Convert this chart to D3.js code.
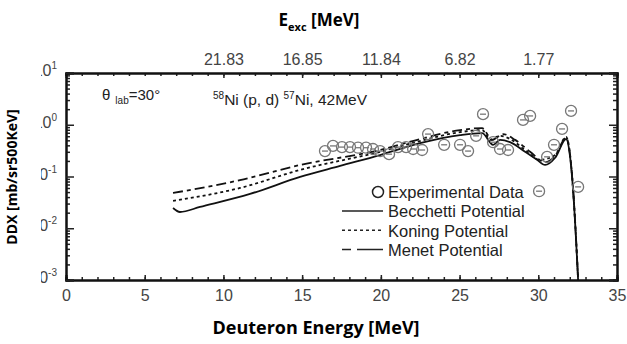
<!DOCTYPE html>
<html>
<head>
<meta charset="utf-8">
<script src="https://cdn.jsdelivr.net/npm/d3@7"></script>
<style>
  body { margin: 0; background: #fff; }
  svg { display: block; }
  .tk text { font-family: "Liberation Sans", Arial, sans-serif; font-size: 16px; fill: #444; }
  .title { font-family: "Open Sans", sans-serif; font-weight: bold; fill: #000; }
</style>
</head>
<body>
<svg id="chart" width="627" height="344"></svg>
<script>
// Becchetti potential (solid)
const becEd  = [6.80, 7.24, 8.51, 11.69, 14.87, 17.41, 19.95, 22.49, 25.03, 26.43, 27.13, 27.57, 28.21, 29.16, 29.92, 30.43, 31.07, 31.77, 32.02, 32.21, 32.40, 32.53];
const becVal = [0.0246, 0.0206, 0.0258, 0.046, 0.098, 0.16, 0.26, 0.44, 0.63, 0.69, 0.41, 0.51, 0.46, 0.30, 0.21, 0.167, 0.23, 0.53, 0.24, 0.055, 0.0059, 0.001];
// Koning potential (dotted)
const konEd  = [6.80, 11.05, 14.87, 19.95, 22.49, 25.03, 26.43, 26.95, 27.57, 28.21, 29.16, 30.11, 31.07, 31.77, 32.02, 32.21, 32.40, 32.53];
const konVal = [0.0337, 0.060, 0.134, 0.30, 0.485, 0.72, 0.79, 0.51, 0.61, 0.53, 0.325, 0.21, 0.26, 0.58, 0.26, 0.058, 0.0062, 0.001];
// Menet potential (dash)
const menEd  = [6.80, 11.05, 14.87, 19.95, 22.49, 25.03, 26.43, 27.07, 27.76, 28.53, 29.48, 30.43, 31.07, 31.77, 32.02, 32.21, 32.40, 32.53];
const menVal = [0.048, 0.085, 0.167, 0.325, 0.53, 0.79, 0.86, 0.51, 0.66, 0.51, 0.30, 0.19, 0.25, 0.56, 0.26, 0.058, 0.0062, 0.001];
// experimental data
const expEd  = [16.45, 16.96, 17.53, 18.04, 18.55, 19.06, 19.50, 19.95, 20.52, 21.09, 21.60, 22.05, 22.62, 23.00, 24.02, 25.03, 25.54, 26.05, 26.49, 27.13, 27.57, 28.08, 29.03, 29.48, 30.05, 30.56, 31.00, 31.51, 32.08, 32.53];
const expVal = [0.31, 0.39, 0.37, 0.37, 0.36, 0.36, 0.34, 0.31, 0.27, 0.37, 0.37, 0.34, 0.325, 0.66, 0.41, 0.41, 0.31, 0.61, 1.6, 0.46, 0.34, 0.325, 1.24, 1.48, 0.052, 0.24, 0.41, 0.83, 1.85, 0.063];
// top axis: excitation energy labels at deuteron energies
const topEd   = [10, 15, 20, 25, 30];
const topLbl  = ["21.83", "16.85", "11.84", "6.82", "1.77"];
const yDecades = [1e-3, 1e-2, 1e-1, 1, 10];
const yExp     = ["-3", "-2", "-1", "0", "1"];
const legendLbl = ["Experimental Data", "Becchetti Potential", "Koning Potential", "Menet Potential"];

const svg = d3.select("#chart");
const L = 66, R = 617, T = 73, B = 280;
const x = d3.scaleLinear().domain([0, 35]).range([L, R]);
const y = d3.scaleLog().domain([1e-3, 10]).range([B, T]);

const minorY = [];
yDecades.slice(0, -1).forEach(d => { for (let k = 2; k <= 9; k++) minorY.push(d * k); });
const minorX = d3.range(0, 36, 1);

// axes
svg.append("g").attr("class", "tk").attr("transform", `translate(0,${B})`)
  .call(d3.axisBottom(x).tickValues(minorX).tickSize(-3).tickFormat(""));
svg.append("g").attr("class", "tk").attr("transform", `translate(0,${B})`)
  .call(d3.axisBottom(x).tickValues(d3.range(0, 36, 5)).tickSize(-5).tickPadding(10).tickFormat(d3.format("d")));
svg.append("g").attr("class", "tk").attr("transform", `translate(0,${T})`)
  .call(d3.axisTop(x).tickValues(minorX).tickSize(-3).tickFormat(""));
svg.append("g").attr("class", "tk").attr("transform", `translate(0,${T})`)
  .call(d3.axisTop(x).tickValues(topEd).tickSize(-5).tickPadding(8).tickFormat((d, i) => topLbl[i]));
svg.append("g").attr("class", "tk").attr("transform", `translate(${L},0)`)
  .call(d3.axisLeft(y).tickValues(minorY).tickSize(-4).tickFormat(""));
svg.append("g").attr("class", "tk").attr("transform", `translate(${L},0)`)
  .call(d3.axisLeft(y).tickValues(yDecades).tickSize(-8).tickFormat(""));
svg.append("g").attr("class", "tk").attr("transform", `translate(${R},0)`)
  .call(d3.axisRight(y).tickValues(minorY).tickSize(-4).tickFormat(""));
svg.append("g").attr("class", "tk").attr("transform", `translate(${R},0)`)
  .call(d3.axisRight(y).tickValues(yDecades).tickSize(-8).tickFormat(""));
svg.selectAll(".tk .domain").attr("stroke", "#111").attr("stroke-width", 2);
svg.selectAll(".tk .tick line").attr("stroke", "#222").attr("stroke-width", 1.5);

// y tick labels (left edge cropped in the original figure)
svg.append("clipPath").attr("id", "lclip").append("rect").attr("x", 41).attr("y", 0).attr("width", 30).attr("height", 344);
const yl = svg.append("g").attr("clip-path", "url(#lclip)").attr("class", "tk")
  .selectAll("text").data(yDecades).join("text")
  .attr("x", 57).attr("y", d => y(d) + 3).attr("text-anchor", "end");
yl.append("tspan").text("10");
yl.append("tspan").attr("dy", -7).attr("font-size", 10).text((d, i) => yExp[i]);

// curves
const line = d3.line().x(d => x(d[0])).y(d => y(d[1])).curve(d3.curveMonotoneX);
const curves = [
  {ed: becEd, v: becVal, dash: null},
  {ed: konEd, v: konVal, dash: "3,3"},
  {ed: menEd, v: menVal, dash: "10,4,4,4"}
];
svg.append("g").selectAll("path").data(curves).join("path")
  .attr("d", c => line(c.ed.map((e, i) => [e, c.v[i]])))
  .attr("fill", "none").attr("stroke", "#111").attr("stroke-width", 1.8)
  .attr("stroke-dasharray", c => c.dash);

// experimental points
const pts = svg.append("g").selectAll("g").data(expEd.map((e, i) => [e, expVal[i]])).join("g")
  .attr("transform", d => `translate(${x(d[0])},${y(d[1])})`);
pts.append("circle").attr("r", 5.5).attr("fill", "none").attr("stroke", "#777").attr("stroke-width", 1.3);
pts.append("line").attr("x1", -3).attr("x2", 3).attr("stroke", "#777").attr("stroke-width", 1.3);

// annotations
const ann = svg.append("g").attr("font-family", "'Liberation Sans Narrow', 'Liberation Sans', sans-serif").attr("fill", "#222");
const th = ann.append("text").attr("x", 102).attr("y", 100).attr("font-size", 15);
th.append("tspan").text("θ");
th.append("tspan").attr("dx", 5).attr("dy", 4).attr("font-size", 10).text("lab");
th.append("tspan").attr("dy", -4).text("=30°");
const rx = ann.append("text").attr("x", 213).attr("y", 105).attr("font-size", 15.5);
rx.append("tspan").attr("dy", -6).attr("font-size", 10).text("58");
rx.append("tspan").attr("dy", 6).text("Ni (p, d) ");
rx.append("tspan").attr("dy", -6).attr("font-size", 10).text("57");
rx.append("tspan").attr("dy", 6).text("Ni, 42MeV");

// legend
const lg = svg.append("g").attr("font-family", "'Liberation Sans', Arial, sans-serif").attr("font-size", 16.5).attr("fill", "#222");
lg.selectAll("text").data(legendLbl).join("text")
  .attr("x", 388).attr("y", (d, i) => 198 + i * 19.3).text(d => d);
lg.append("circle").attr("cx", 378).attr("cy", 192).attr("r", 5.5).attr("fill", "none").attr("stroke", "#222").attr("stroke-width", 1.5);
lg.selectAll("line").data(curves).join("line")
  .attr("x1", 342).attr("x2", 383).attr("y1", (d, i) => 211 + i * 19.3).attr("y2", (d, i) => 211 + i * 19.3)
  .attr("stroke", "#222").attr("stroke-width", 1.5).attr("stroke-dasharray", c => c.dash === "10,4,4,4" ? "9,6,26" : c.dash);

// titles
const tt = svg.append("text").attr("class", "title").attr("x", 319).attr("y", 26).attr("text-anchor", "middle").attr("font-size", 17);
tt.append("tspan").text("E");
tt.append("tspan").attr("dy", 5).attr("font-size", 11).text("exc");
tt.append("tspan").attr("dy", -5).text(" [MeV]");
svg.append("text").attr("class", "title").attr("x", 316).attr("y", 334).attr("text-anchor", "middle").attr("font-size", 18)
  .text("Deuteron Energy [MeV]");
svg.append("text").attr("class", "title").attr("transform", "translate(17,177) rotate(-90)").attr("text-anchor", "middle").attr("font-size", 14)
  .text("DDX [mb/sr500KeV]");
</script>
</body>
</html>
